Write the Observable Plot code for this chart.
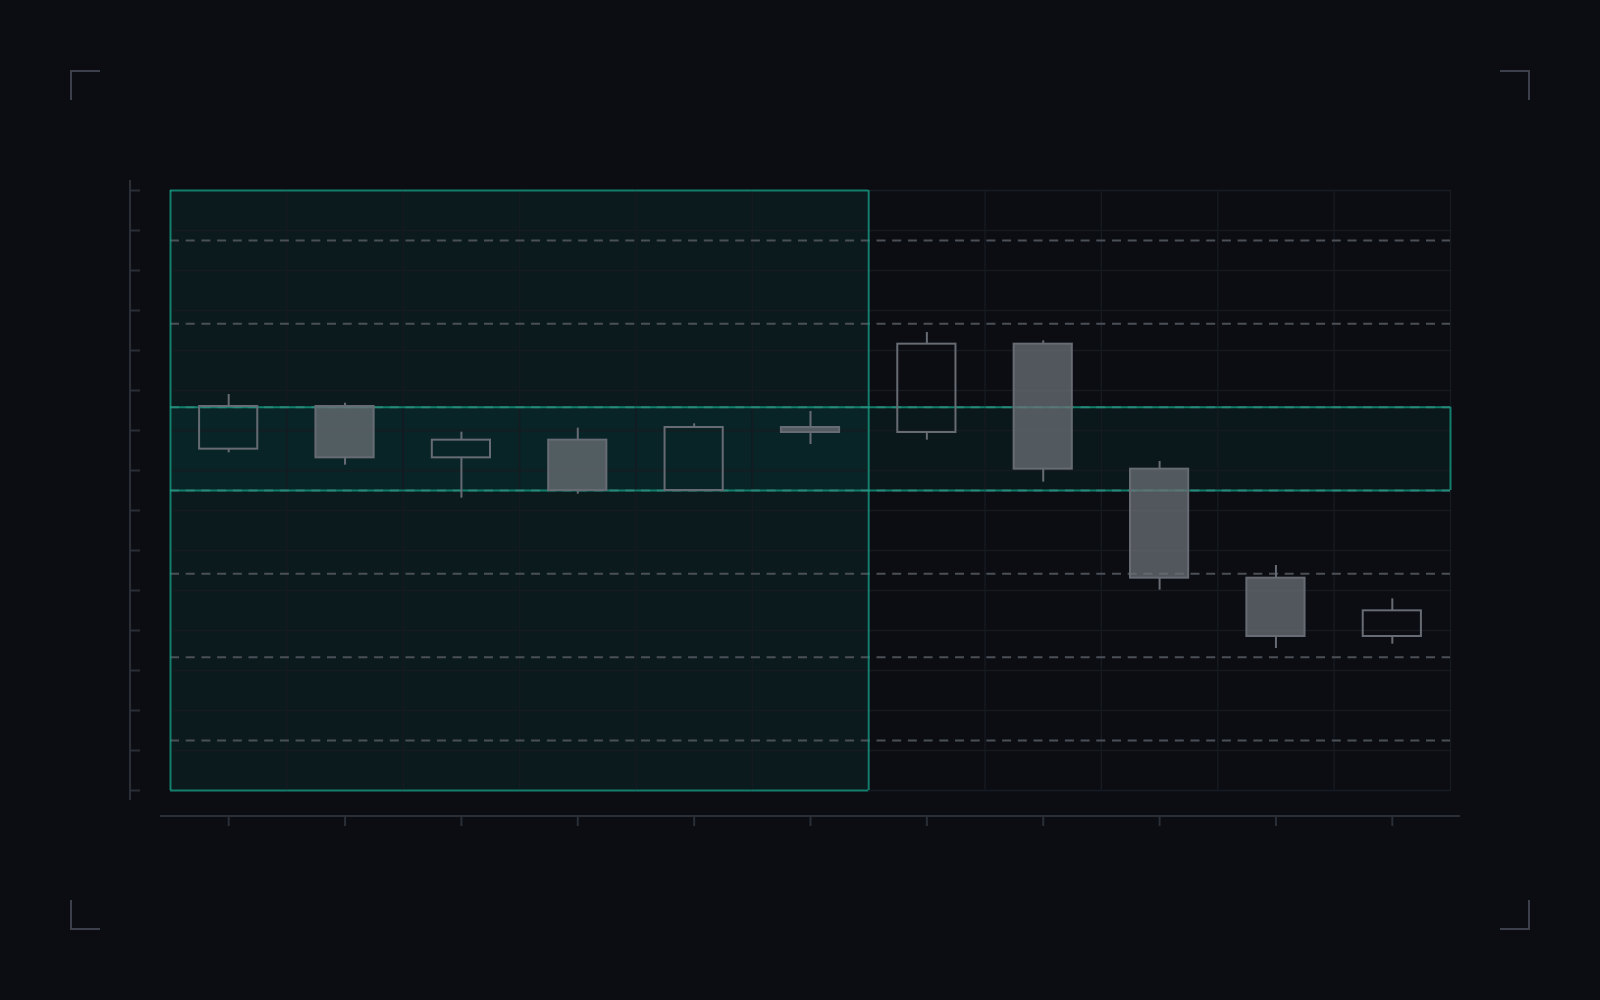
<!DOCTYPE html>
<html>
<head>
<meta charset="utf-8">
<script src="https://cdn.jsdelivr.net/npm/d3@7"></script>
<script src="https://cdn.jsdelivr.net/npm/@observablehq/plot@0.6"></script>
<style>
  html, body { margin: 0; padding: 0; background: #0b0d12; }
  #chart { width: 1600px; height: 1000px; }
  svg { display: block; }
</style>
</head>
<body>
<div id="chart"></div>
<script>
// ---- data ----
const categories = ["S1","S2","S3","S4","S5","S6","S7","S8","S9","S10","S11"];
const open  = [120.48, 123.04, 119.96, 121.02, 118.00, 121.78, 121.48, 126.78, 119.28, 112.74, 109.24];
const close = [123.04, 119.96, 121.02, 118.00, 121.78, 121.48, 126.78, 119.28, 112.74, 109.24, 110.78];
const high  = [123.76, 123.24, 121.50, 121.74, 122.00, 122.74, 127.48, 126.98, 119.74, 113.50, 111.50];
const low   = [120.26, 119.52, 117.54, 117.78, 118.00, 120.76, 121.02, 118.50, 112.02, 108.52, 108.78];
const yDomain = [100, 136];
const gridTicks = d3.range(16).map(i => +(100 + i * 2.4).toFixed(2));
const levels = [103, 108, 113, 118, 123, 128, 133];
const zoneCategories = categories.slice(0, 6);   // highlighted sessions
const zoneRange = [100, 136];
const bandRange = [118, 123];                   // highlighted price band

// ---- derived table ----
const candles = categories.map((c, i) => ({
  cat: c, open: open[i], close: close[i], high: high[i], low: low[i],
  up: close[i] >= open[i]
}));

// ---- layout ----
const W = 1600, H = 1000;
const M = {top: 190, right: 150, bottom: 210, left: 170};
const half = (W - M.left - M.right) / categories.length / 2;

const bg = "#0b0d12";
const gridColor = "#161a21";
const axisColor = "#2a2e36";
const dashColor = "#4b5058";
const teal = "#14a085";
const tealFill = "#00c8b4";
const candleStroke = "#676b73";
const candleFill = "#6b7077";

// decorations: axis lines and corner brackets
function decor(index, scales, values, dim) {
  const g = d3.create("svg:g");
  const axX = dim.marginLeft - 40;
  g.append("line")
    .attr("x1", axX).attr("x2", axX)
    .attr("y1", dim.marginTop - 10).attr("y2", dim.height - dim.marginBottom + 10)
    .attr("stroke", axisColor).attr("stroke-width", 2);
  const axY = dim.height - dim.marginBottom + 26;
  g.append("line")
    .attr("x1", dim.marginLeft - 10).attr("x2", dim.width - dim.marginRight + 10)
    .attr("y1", axY).attr("y2", axY)
    .attr("stroke", axisColor).attr("stroke-width", 2);
  const o = 71, L = 29;
  const corners = [
    [o, o, 1, 1], [dim.width - o, o, -1, 1],
    [o, dim.height - o, 1, -1], [dim.width - o, dim.height - o, -1, -1]
  ];
  for (const [cx, cy, sx, sy] of corners) {
    g.append("path")
      .attr("d", `M${cx + sx * L},${cy} L${cx},${cy} L${cx},${cy + sy * L}`)
      .attr("fill", "none").attr("stroke", "#3b404a").attr("stroke-width", 2);
  }
  return g.node();
}

const chart = Plot.plot({
  width: W, height: H,
  marginTop: M.top, marginRight: M.right, marginBottom: M.bottom, marginLeft: M.left,
  style: {background: bg, overflow: "visible"},
  x: {type: "band", domain: categories, padding: 0, round: false},
  y: {domain: yDomain},
  marks: [
    // highlight zone fill (first sessions)
    Plot.barY(zoneCategories, {x: d => d, y1: zoneRange[0], y2: zoneRange[1], fill: tealFill, fillOpacity: 0.07}),
    // highlight band fill
    Plot.barY(categories, {x: d => d, y1: bandRange[0], y2: bandRange[1], fill: tealFill, fillOpacity: 0.06}),
    // grid
    Plot.ruleY(gridTicks, {stroke: gridColor, strokeWidth: 1.5}),
    Plot.ruleX(categories, {x: d => d, dx: -half, stroke: gridColor, strokeWidth: 1.5}),
    Plot.frame({stroke: gridColor, strokeWidth: 1.5}),
    // dashed levels
    Plot.ruleY(levels, {stroke: dashColor, strokeWidth: 2, strokeDasharray: "9,6.7"}),
    // highlight borders
    Plot.tickY(zoneCategories, {x: d => d, y: zoneRange[0], stroke: teal, strokeWidth: 2, strokeOpacity: 0.75}),
    Plot.tickY(zoneCategories, {x: d => d, y: zoneRange[1], stroke: teal, strokeWidth: 2, strokeOpacity: 0.75}),
    Plot.ruleX([zoneCategories[0]], {x: d => d, dx: -half, y1: zoneRange[0], y2: zoneRange[1], stroke: teal, strokeWidth: 2, strokeOpacity: 0.75}),
    Plot.ruleX([zoneCategories[zoneCategories.length - 1]], {x: d => d, dx: half, y1: zoneRange[0], y2: zoneRange[1], stroke: teal, strokeWidth: 2, strokeOpacity: 0.75}),
    Plot.tickY(categories, {x: d => d, y: bandRange[0], stroke: teal, strokeWidth: 2, strokeOpacity: 0.75}),
    Plot.tickY(categories, {x: d => d, y: bandRange[1], stroke: teal, strokeWidth: 2, strokeOpacity: 0.75}),
    Plot.ruleX([categories[categories.length - 1]], {x: d => d, dx: half, y1: bandRange[0], y2: bandRange[1], stroke: teal, strokeWidth: 2, strokeOpacity: 0.75}),
    // wicks
    Plot.ruleX(candles, {x: "cat", y1: "high", y2: d => Math.max(d.open, d.close), stroke: candleStroke, strokeWidth: 2}),
    Plot.ruleX(candles, {x: "cat", y1: "low", y2: d => Math.min(d.open, d.close), stroke: candleStroke, strokeWidth: 2}),
    // bodies
    Plot.barY(candles, {
      x: "cat", y1: "open", y2: "close",
      insetLeft: half / 2, insetRight: half / 2,
      fill: d => d.up ? "none" : candleFill, fillOpacity: 0.75,
      stroke: candleStroke, strokeWidth: 2
    }),
    // axes ticks (no labels)
    Plot.axisY({ticks: gridTicks, tickSize: 10, dx: -30, fill: "none", stroke: axisColor, strokeWidth: 2, label: null}),
    Plot.axisX({tickSize: 10, dy: 26, fill: "none", stroke: axisColor, strokeWidth: 2, label: null}),
    decor
  ]
});
document.getElementById("chart").append(chart);
</script>
</body>
</html>
